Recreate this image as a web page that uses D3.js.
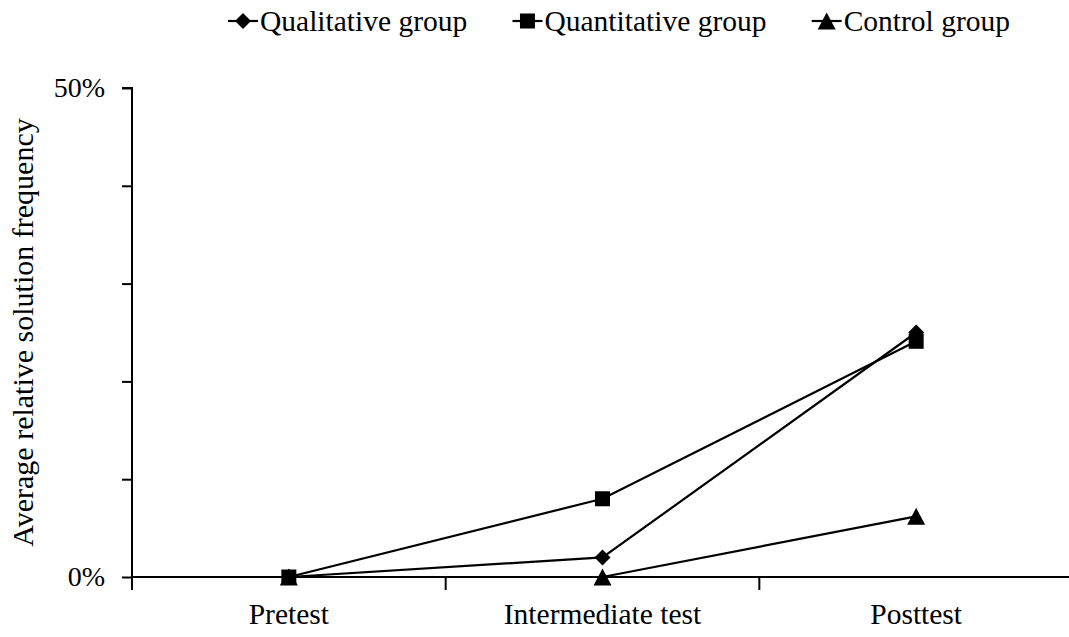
<!DOCTYPE html>
<html>
<head>
<meta charset="utf-8">
<script src="https://cdn.jsdelivr.net/npm/d3@7"></script>
<style>
  body { margin: 0; background: #fff; }
</style>
</head>
<body>
<div id="chart"></div>
<script>
const width = 1069, height = 637;
const serif = '"Liberation Serif", monospace';

// data (percent)
const tests = ["Pretest", "Intermediate test", "Posttest"];
const qualitative = [0, 2.0, 25.0];
const quantitative = [0, 8.0, 24.1];
const control = [0, 0, 6.2];
const yTicks = [0, 10, 20, 30, 40, 50];
const yTickLabels = ["0%", "", "", "", "", "50%"];

const series = [
  { name: "Qualitative group", values: qualitative, shape: "diamond" },
  { name: "Quantitative group", values: quantitative, shape: "square" },
  { name: "Control group", values: control, shape: "triangle" }
];

const margin = { top: 88, right: -4, bottom: 60, left: 132 };
const legendLeft = 228, legendRight = 1010;

const svg = d3.select("#chart").append("svg")
  .attr("width", width)
  .attr("height", height);

const x = d3.scaleBand()
  .domain(tests)
  .range([margin.left, width - margin.right]);

const y = d3.scaleLinear()
  .domain([0, 50])
  .range([577, margin.top]);

// marker shapes centred on their bounding box
function marker(shape) {
  if (shape === "diamond") return "M0,-8L8,0L0,8L-8,0Z";
  if (shape === "square") return "M-7.5,-7.5H7.5V7.5H-7.5Z";
  return "M0,-8.5L9,8.5H-9Z";
}

// x axis with ticks at band edges
const xAxis = svg.append("g");
xAxis.append("line")
  .attr("x1", margin.left).attr("x2", width)
  .attr("y1", y(0)).attr("y2", y(0))
  .attr("stroke", "#000").attr("stroke-width", 2);
xAxis.selectAll(".xt")
  .data(tests)
  .join("line")
  .attr("x1", d => x(d)).attr("x2", d => x(d))
  .attr("y1", y(0)).attr("y2", y(0) + 13)
  .attr("stroke", "#000").attr("stroke-width", 2);
xAxis.selectAll(".xl")
  .data(tests)
  .join("text")
  .attr("x", d => x(d) + x.bandwidth() / 2)
  .attr("y", 624)
  .attr("text-anchor", "middle")
  .attr("font-size", 29.5)
  .style("font-family", serif)
  .text(d => d);

// y axis
const yAxis = svg.append("g")
  .attr("transform", `translate(${margin.left},0)`)
  .call(d3.axisLeft(y).tickValues(yTicks).tickSize(10).tickPadding(17)
    .tickFormat((d, i) => yTickLabels[i]));
yAxis.select(".domain").attr("stroke-width", 2).attr("d", `M-10,${y(50)}H0V${y(0)}`);
yAxis.selectAll(".tick line").attr("stroke-width", 2);
yAxis.selectAll(".tick text")
  .attr("font-size", 28)
  .style("font-family", serif)
  .attr("fill", "#000");

svg.append("text")
  .attr("transform", `translate(33,${(y(0) + y(50)) / 2}) rotate(-90)`)
  .attr("text-anchor", "middle")
  .attr("font-size", 30)
  .style("font-family", serif)
  .text("Average relative solution frequency");

// lines and markers
const line = d3.line()
  .x((d, i) => x(tests[i]) + x.bandwidth() / 2)
  .y(d => y(d));

series.forEach(s => {
  svg.append("path")
    .datum(s.values)
    .attr("d", line)
    .attr("fill", "none")
    .attr("stroke", "#000")
    .attr("stroke-width", 2.2);
});
series.forEach(s => {
  svg.selectAll(null)
    .data(s.values)
    .join("path")
    .attr("transform", (d, i) => `translate(${x(tests[i]) + x.bandwidth() / 2},${y(d)})`)
    .attr("d", marker(s.shape))
    .attr("fill", "#000");
});

// legend: spread between legendLeft and legendRight
const legend = svg.append("g");
const items = series.map(s => {
  const g = legend.append("g");
  g.append("line").attr("x1", 0).attr("x2", 30)
    .attr("stroke", "#000").attr("stroke-width", 2.2);
  g.append("path").attr("transform", "translate(15,0)").attr("d", marker(s.shape)).attr("fill", "#000");
  const t = g.append("text").attr("x", 32).attr("y", 10).attr("font-size", 29.5)
    .style("font-family", serif).text(s.name);
  return { g, w: 32 + t.node().getComputedTextLength() };
});
const gap = (legendRight - legendLeft - d3.sum(items, d => d.w)) / (items.length - 1);
let lx = legendLeft;
items.forEach(it => {
  it.g.attr("transform", `translate(${lx},21)`);
  lx += it.w + gap;
});
</script>
</body>
</html>
